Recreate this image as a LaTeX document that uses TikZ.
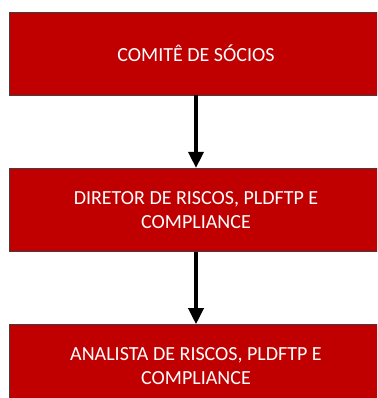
\documentclass[tikz,border=0pt]{standalone}
\usepackage{fontspec}
\setmainfont{Carlito}
\usetikzlibrary{positioning}
\usetikzlibrary{arrows.meta}
\definecolor{boxred}{HTML}{C00000}
\tikzset{
        % Red boxes of the chart
        node_box/.style={rectangle, align=center, inner sep=0pt, draw=black!75, line width=0.8pt, fill=boxred, text=white, minimum width=374pt, minimum height=83pt, font=\fontsize{20}{24}\selectfont},
        % Arrows between boxes
        node_link/.style={-{Triangle[length=16pt,width=15pt]}, line width=3.5pt, black}
}

\begin{document}
\begin{tikzpicture}[x=1pt, y=1pt, node distance=72.5pt]
            \useasboundingbox (0,0) rectangle (377,398);
            \clip (0,0) rectangle (377,398);
            \node[node_box] (comite) at (196,344.5) {COMITÊ DE SÓCIOS};
            \node[node_box, below=of comite] (diretor) {DIRETOR DE RISCOS, PLDFTP E\\COMPLIANCE};
            \node[node_box, below=of diretor] (analista) {ANALISTA DE RISCOS, PLDFTP E\\COMPLIANCE};
            \draw[node_link] (comite) -- (diretor);
            \draw[node_link] (diretor) -- (analista);
        \end{tikzpicture}
\end{document}
